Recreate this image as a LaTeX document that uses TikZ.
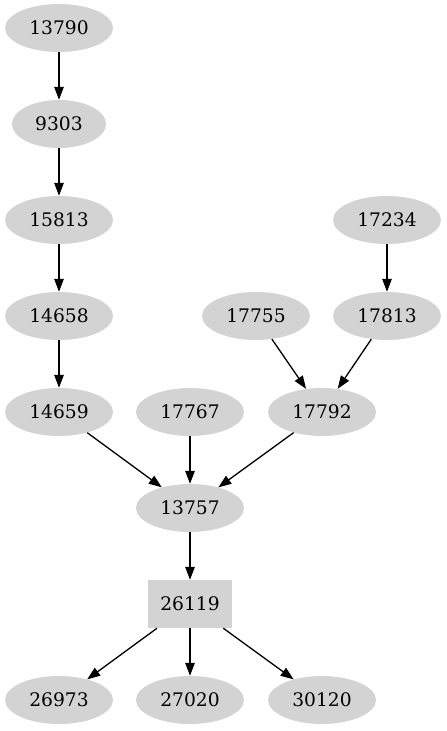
\documentclass[tikz,border=0pt]{standalone}
\usepackage{fontspec}
\setmainfont{DejaVu Serif}
\usetikzlibrary{shapes.geometric,arrows.meta}
\definecolor{lgray}{HTML}{D3D3D3}
\begin{document}
\begin{tikzpicture}[x=1pt,y=-1pt,
  nd/.style={ellipse,fill=lgray,draw=none,minimum width=108pt,minimum height=48pt,inner sep=0pt,font=\fontsize{18.67}{22}\selectfont},
  sq/.style={rectangle,fill=lgray,draw=none,minimum width=84pt,minimum height=48pt,inner sep=0pt,font=\fontsize{18.67}{22}\selectfont},
  ar/.style={-{Triangle[length=13pt,width=9.5pt]},line width=1.3pt,black}]
\useasboundingbox (0,0) rectangle (447,731);
\node[nd] (n13790) at (59,28) {13790};
\node[nd,minimum width=94pt] (n9303) at (59,124) {9303};
\node[nd] (n15813) at (59,220) {15813};
\node[nd] (n14658) at (59,316) {14658};
\node[nd] (n14659) at (59,412) {14659};
\node[nd] (n17234) at (387,220) {17234};
\node[nd] (n17755) at (256,316) {17755};
\node[nd] (n17813) at (387,316) {17813};
\node[nd] (n17767) at (190,412) {17767};
\node[nd] (n17792) at (322,412) {17792};
\node[nd] (n13757) at (190,508) {13757};
\node[sq] (n26119) at (190,604) {26119};
\node[nd] (n26973) at (59,700) {26973};
\node[nd] (n27020) at (190,700) {27020};
\node[nd] (n30120) at (322,700) {30120};
\draw[ar] (n13790) -- (n9303);
\draw[ar] (n9303) -- (n15813);
\draw[ar] (n15813) -- (n14658);
\draw[ar] (n14658) -- (n14659);
\draw[ar] (n14659) -- (n13757);
\draw[ar] (n17767) -- (n13757);
\draw[ar] (n17792) -- (n13757);
\draw[ar] (n17755) -- (n17792);
\draw[ar] (n17813) -- (n17792);
\draw[ar] (n17234) -- (n17813);
\draw[ar] (n13757) -- (n26119);
\draw[ar] (n26119) -- (n26973);
\draw[ar] (n26119) -- (n27020);
\draw[ar] (n26119) -- (n30120);
\end{tikzpicture}
\end{document}
